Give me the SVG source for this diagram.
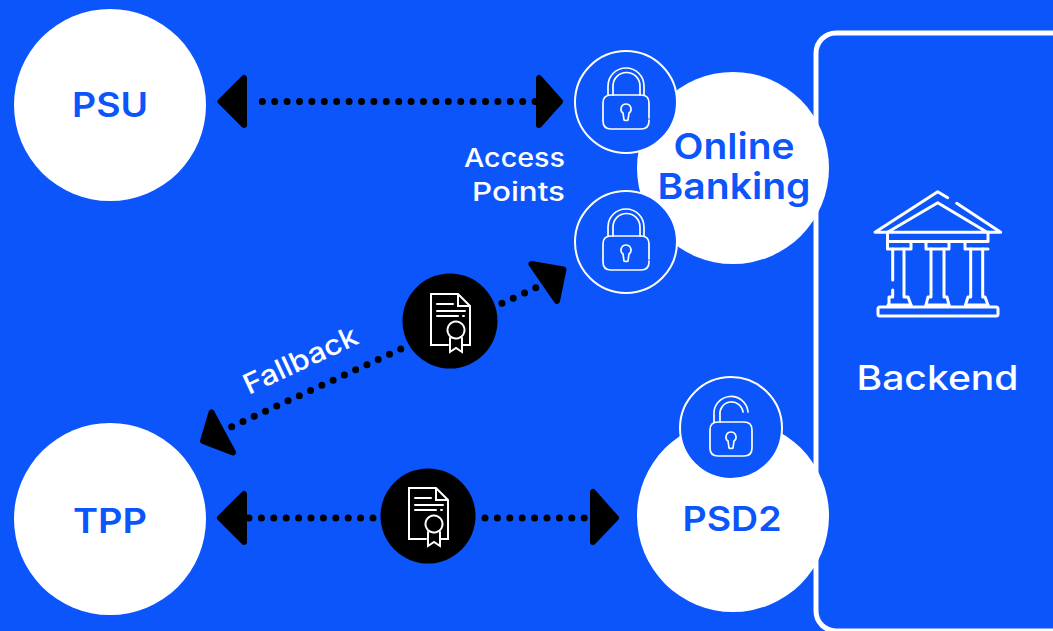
<svg xmlns="http://www.w3.org/2000/svg" width="1053" height="631" viewBox="0 0 1053 631">
<style>
.w{fill:#fff}
.t{font-family:"Inter","Liberation Sans",sans-serif;font-weight:600;text-anchor:middle;fill:#0b55fb}
.l{font-family:"Inter","Liberation Sans",sans-serif;font-weight:500;fill:#fff}
.ring{fill:#0b55fb;stroke:#fff;stroke-width:2}
.ic{fill:none;stroke:#fff;stroke-width:1.7;stroke-linecap:round;stroke-linejoin:round}
.cr{fill:none;stroke:#fff;stroke-width:2;stroke-linecap:round;stroke-linejoin:miter}
.bk{fill:none;stroke:#fff;stroke-width:3;stroke-linecap:round;stroke-linejoin:round}
.dot{fill:none;stroke:#000;stroke-width:7;stroke-linecap:round;stroke-dasharray:0 12.4}
.ah{fill:#000;stroke:#000;stroke-width:6;stroke-linejoin:round}
</style>
<defs>
<g id="keyhole">
<path class="ic" d="M0 -2A5 5 0 0 1 3 7L2 14Q0 15 -2 14L-3 7A5 5 0 0 1 0 -2Z"/>
</g>
<g id="lock">
<path class="ic" d="M23 12V-3Q23 -11 15 -11H-15Q-23 -11 -23 -3V15Q-23 23 -15 23H15Q23 23 23 15V14"/>
<use href="#keyhole"/>
<path class="ic" d="M-18 -11V-20A18 18 0 0 1 18 -20V-11M-13 -11V-20A13.500 13.500 0 0 1 14 -20V-11"/>
</g>
<g id="open">
<path class="ic" d="M21 -3Q21 -11 13 -11H-13Q-21 -11 -21 -3V15Q-21 23 -13 23H13Q21 23 21 15Z"/>
<use href="#keyhole" y="1"/>
<path class="ic" d="M-17 -11V-18A17 17 0 0 1 17 -21M-11 -11V-18A11.500 11.500 0 0 1 12 -21"/>
</g>
<g id="cert">
<path class="cr" d="M-2 24H-19V-27H8L20 -15V24H12M8 -27V-15H20"/>
<path class="cr" d="M-13 -17H3M-13 -10H15M-13 -5H8M13 -5H14"/>
<circle class="cr" cx="6" cy="9" r="8.500" stroke-dasharray="3 1"/>
<path class="cr" d="M0 17V31L6 27L12 31V17"/>
</g>
</defs>
<rect width="1053" height="631" fill="#0b55fb"/>
<g id="backend">
<rect x="816" y="33" width="270" height="598" rx="20" fill="#0b55fb" stroke="#fff" stroke-width="5"/>
<g class="bk">
<path d="M947.700 197.700L937.700 191.700L875 232.300H1000.700L956.700 203.300M888 232L937.700 202.700L986.700 232"/>
<path d="M887.500 232V241.500H988V232M887.500 241.500V249H911V241.500M926 241.500V249H949V241.500M965 241.500V249H988"/>
<path d="M892.700 249V280M892.700 290V297H889V305M904 249V297H908L911 305"/>
<path d="M931 249V297H928L926 305M944 249V297H947L949 305"/>
<path d="M970.700 249V297H968L965.500 305M982.700 249V297H985L988 305"/>
<path d="M880 307H996Q998 307 998 309V314Q998 316 996 316H880Q878 316 878 314V309Q878 307 880 307Z"/>
<path d="M888 305H911M926 305H949M965.500 305H988"/>
</g>
<text class="l" x="937.500" y="390" font-size="34" text-anchor="middle" font-weight="600" textLength="162" lengthAdjust="spacingAndGlyphs">Backend</text>
</g>
<g id="connectors">
<path class="dot" d="M262.300 101.500H539"/>
<path class="ah" d="M220.500 101.500L244 78V125ZM560 101.500L539 78V125Z"/>
<path class="dot" d="M249 518H376M485 518H590"/>
<path class="ah" d="M220 518L244 494V542ZM616 518L593 492V542Z"/>
<path class="dot" d="M231.700 426.700L401 349M502 303.300L536 287.700"/>
<path class="ah" d="M211.500 412.500L203 441L233 452.500ZM531.500 264L563.500 269.500L557 301Z"/>
</g>
<g id="psu"><circle class="w" cx="110" cy="105" r="96"/><text class="t" x="110" y="117" font-size="34" textLength="76" lengthAdjust="spacingAndGlyphs">PSU</text></g>
<g id="tpp"><circle class="w" cx="110" cy="519" r="96"/><text class="t" x="110" y="533" font-size="34" textLength="74" lengthAdjust="spacingAndGlyphs">TPP</text></g>
<g id="online-banking"><circle class="w" cx="733" cy="168" r="96"/>
<text class="t" x="734" y="159" font-size="36" textLength="121" lengthAdjust="spacingAndGlyphs">Online</text>
<text class="t" x="734" y="199" font-size="36" textLength="153" lengthAdjust="spacingAndGlyphs">Banking</text></g>
<g id="psd2"><circle class="w" cx="733" cy="516" r="96"/><text class="t" x="732" y="531" font-size="34" textLength="99" lengthAdjust="spacingAndGlyphs">PSD2</text></g>
<g id="lock-1"><circle class="ring" cx="626" cy="102" r="51"/><use href="#lock" x="626" y="106"/></g>
<g id="lock-2"><circle class="ring" cx="626" cy="242" r="51"/><use href="#lock" x="626" y="247"/></g>
<g id="lock-3"><circle class="ring" cx="731" cy="428" r="51"/><use href="#open" x="731" y="433"/></g>
<g id="cert-1"><circle cx="450" cy="321" r="47.500" fill="#000"/><use href="#cert" x="450" y="321"/></g>
<g id="cert-2"><circle cx="428" cy="516" r="47.500" fill="#000"/><use href="#cert" x="428" y="515"/></g>
<g id="labels">
<text class="l" x="565" y="167" font-size="26" text-anchor="end" textLength="101" lengthAdjust="spacingAndGlyphs">Access</text>
<text class="l" x="565" y="201" font-size="26" text-anchor="end" textLength="93" lengthAdjust="spacingAndGlyphs">Points</text>
<text class="l" x="0" y="0" font-size="28" text-anchor="middle" textLength="123" lengthAdjust="spacingAndGlyphs" transform="translate(304.500 369) rotate(-25)">Fallback</text>
</g>
</svg>
